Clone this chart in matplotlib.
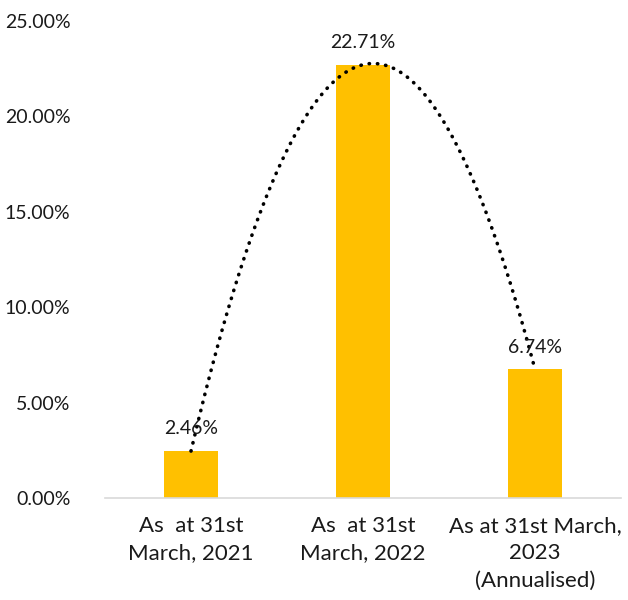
import numpy as np
import matplotlib
matplotlib.use("Agg")
import matplotlib.pyplot as plt
from matplotlib.ticker import FuncFormatter

plt.rcParams['font.family'] = ['Lato', 'DejaVu Sans']

categories = ["As  at 31st\nMarch, 2021", "As  at 31st\nMarch, 2022", "As at 31st March,\n2023\n(Annualised)"]
values = [2.46, 22.71, 6.74]
yticks = [0, 5, 10, 15, 20, 25]

fig = plt.figure(figsize=(6.28, 6.0), dpi=100)
ax = fig.add_axes([105/628, 102/600, 516/628, 477/600])

x = np.arange(len(values))
ax.bar(x, values, width=0.31, color="#FFC000", zorder=2)

# polynomial (order 2) trendline
coef = np.polyfit(x, values, 2)
xs = np.linspace(x[0], x[-1], 300)
ax.plot(xs, np.polyval(coef, xs), color="black", linestyle=(0, (0.1, 2.2)),
        linewidth=2.6, dash_capstyle="round", zorder=3)

fs = 14
for xi, v in zip(x, values):
    ax.annotate(f"{v:.2f}%", (xi, v), xytext=(0, 10), textcoords="offset points",
                ha="center", va="bottom", fontsize=fs, color="#1a1a1a", zorder=4)

ax.set_xlim(-0.5, 2.5)
ax.set_ylim(0, 25)
ax.set_yticks(yticks)
ax.yaxis.set_major_formatter(FuncFormatter(lambda v, p: f"{v:.2f}%"))
ax.set_xticks(x)
ax.set_xticklabels(categories, fontsize=16, color="#1a1a1a", linespacing=1.45)
ax.tick_params(axis="y", labelsize=fs, labelcolor="#1a1a1a", length=0, pad=25)
ax.tick_params(axis="x", length=0, pad=13)

for s in ["top", "right", "left"]:
    ax.spines[s].set_visible(False)
ax.spines["bottom"].set_color("#D9D9D9")
ax.spines["bottom"].set_linewidth(1.2)

fig.savefig("out.png", dpi=100)
